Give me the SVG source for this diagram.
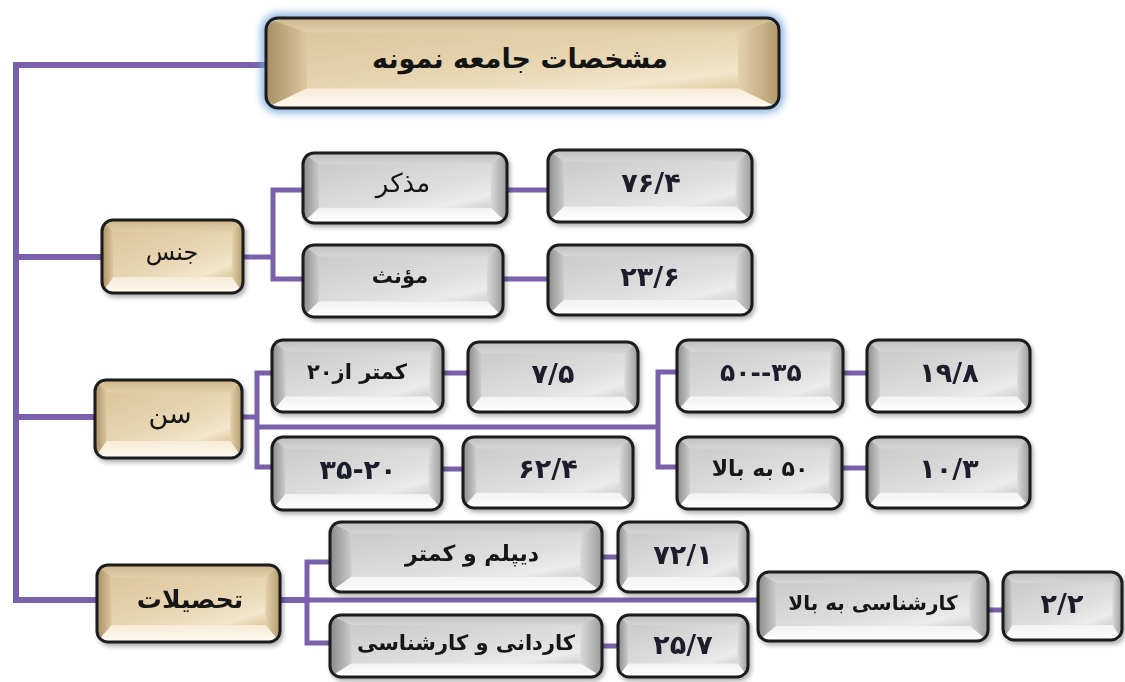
<svg xmlns="http://www.w3.org/2000/svg" xmlns:xlink="http://www.w3.org/1999/xlink" width="1125" height="682" viewBox="0 0 1125 682">
<style>
.ln{fill:none;stroke:#7b61ab;stroke-width:5}
.tr{stroke-width:6}
.bd{fill:none;stroke:#1b1b1b;stroke-width:3}
.t{font-family:"DejaVu Sans",sans-serif;font-size:21px;fill:#141414;text-anchor:middle;dominant-baseline:central}
.b{font-weight:bold}
.fa{direction:rtl}
.nm{direction:ltr;font-weight:bold;fill:#1d1d2b;font-size:27px}
</style>
<defs>
<filter id="sh" x="-10%" y="-10%" width="125%" height="135%"><feDropShadow dx="2" dy="3" stdDeviation="2" flood-color="#000" flood-opacity="0.3"/></filter>
<filter id="glow" x="-10%" y="-30%" width="120%" height="160%"><feGaussianBlur stdDeviation="4"/></filter>
<linearGradient id="gT" x1="0" y1="0" x2="0" y2="1"><stop offset="0" stop-color="#bdbdbd"/><stop offset="1" stop-color="#d6d6d6"/></linearGradient>
<linearGradient id="gL" x1="0" y1="0" x2="1" y2="0"><stop offset="0" stop-color="#8a8a8a"/><stop offset="1" stop-color="#cdcdcd"/></linearGradient>
<linearGradient id="gR" x1="0" y1="0" x2="1" y2="0"><stop offset="0" stop-color="#dadada"/><stop offset="1" stop-color="#9b9b9b"/></linearGradient>
<linearGradient id="gB" x1="0" y1="0" x2="0" y2="1"><stop offset="0" stop-color="#f2f2f2"/><stop offset="1" stop-color="#ffffff"/></linearGradient>
<linearGradient id="gC" x1="0" y1="0" x2="1" y2="1"><stop offset="0" stop-color="#cbcbcb"/><stop offset="0.6" stop-color="#dedede"/><stop offset="0.85" stop-color="#ebebeb"/><stop offset="1" stop-color="#d2d2d2"/></linearGradient>
<linearGradient id="bT" x1="0" y1="0" x2="0" y2="1"><stop offset="0" stop-color="#cdb68a"/><stop offset="1" stop-color="#e2cfa9"/></linearGradient>
<linearGradient id="bL" x1="0" y1="0" x2="1" y2="0"><stop offset="0" stop-color="#a88e62"/><stop offset="1" stop-color="#dcc79f"/></linearGradient>
<linearGradient id="bR" x1="0" y1="0" x2="1" y2="0"><stop offset="0" stop-color="#e4d2ad"/><stop offset="1" stop-color="#b39a6c"/></linearGradient>
<linearGradient id="bB" x1="0" y1="0" x2="0" y2="1"><stop offset="0" stop-color="#f6ecd6"/><stop offset="1" stop-color="#fffaf0"/></linearGradient>
<linearGradient id="bC" x1="0" y1="0" x2="1" y2="1"><stop offset="0" stop-color="#dcc59a"/><stop offset="0.6" stop-color="#e9d8b6"/><stop offset="0.85" stop-color="#f2e6cc"/><stop offset="1" stop-color="#dfca9f"/></linearGradient>
<clipPath id="rc"><rect width="100" height="100" rx="5" ry="14"/></clipPath>
<symbol id="gray" viewBox="0 0 100 100" preserveAspectRatio="none">
<g clip-path="url(#rc)">
<rect width="100" height="100" fill="#d9d9d9"/>
<polygon points="0,0 100,0 92,16 8,16" fill="url(#gT)"/>
<polygon points="0,0 8,16 8,78 0,100" fill="url(#gL)"/>
<polygon points="100,0 92,16 92,78 100,100" fill="url(#gR)"/>
<polygon points="0,100 8,78 92,78 100,100" fill="url(#gB)"/>
<rect x="8" y="16" width="84" height="62" fill="url(#gC)"/>
</g>
</symbol>
<symbol id="beige" viewBox="0 0 100 100" preserveAspectRatio="none">
<g clip-path="url(#rc)">
<rect width="100" height="100" fill="#e6d3ab"/>
<polygon points="0,0 100,0 92,16 8,16" fill="url(#bT)"/>
<polygon points="0,0 8,16 8,78 0,100" fill="url(#bL)"/>
<polygon points="100,0 92,16 92,78 100,100" fill="url(#bR)"/>
<polygon points="0,100 8,78 92,78 100,100" fill="url(#bB)"/>
<rect x="8" y="16" width="84" height="62" fill="url(#bC)"/>
</g>
</symbol>
</defs>
<rect width="1125" height="682" fill="#ffffff"/>

<g id="connectors">
<path class="ln tr" d="M266,65 H16 V600 H97"/>
<path class="ln tr" d="M16,257 H102"/>
<path class="ln tr" d="M16,417 H95"/>
<path class="ln" d="M243,257 H273"/>
<path class="ln" d="M303,190 H273 V279 H303"/>
<path class="ln" d="M507,190 H548"/>
<path class="ln" d="M503,279 H548"/>
<path class="ln" d="M242,417 H257"/>
<path class="ln" d="M272,373 H257 V467 H272"/>
<path class="ln" d="M257,427 H658"/>
<path class="ln" d="M677,372 H658 V467 H677"/>
<path class="ln" d="M443,373 H468"/>
<path class="ln" d="M442,469 H463"/>
<path class="ln" d="M843,373 H867"/>
<path class="ln" d="M842,468 H867"/>
<path class="ln tr" d="M280,600 H307"/>
<path class="ln" d="M330,562 H307 V643 H330"/>
<path class="ln" d="M307,600 H758"/>
<path class="ln" d="M602,557 H618"/>
<path class="ln" d="M602,646 H618"/>
<path class="ln" d="M988,610 H1003"/>
</g>

<g id="title">
<rect x="266" y="18" width="513" height="90" rx="12" fill="none" stroke="#6fa3dc" stroke-width="8" filter="url(#glow)"/>
<use href="#beige" x="266" y="18" width="513" height="90"/>
<rect class="bd" x="266" y="18" width="513" height="90" rx="12"/>
<text class="t b fa" x="520" y="58" style="font-size:27px">مشخصات جامعه نمونه</text>
</g>

<g id="jens" filter="url(#sh)">
<use href="#beige" x="102" y="220" width="141" height="73"/>
<rect class="bd" x="102" y="220" width="141" height="73" rx="11"/>
<text class="t fa" x="172" y="252" style="font-size:24px">جنس</text>
</g>
<g id="sen" filter="url(#sh)">
<use href="#beige" x="95" y="380" width="147" height="78"/>
<rect class="bd" x="95" y="380" width="147" height="78" rx="11"/>
<text class="t fa" x="170" y="413" style="font-size:27px">سن</text>
</g>
<g id="tahsilat" filter="url(#sh)">
<use href="#beige" x="97" y="565" width="183" height="77"/>
<rect class="bd" x="97" y="565" width="183" height="77" rx="11"/>
<text class="t b fa" x="190" y="599" style="font-size:25px">تحصیلات</text>
</g>

<g id="mozakar" filter="url(#sh)">
<use href="#gray" x="303" y="153" width="204" height="70"/>
<rect class="bd" x="303" y="153" width="204" height="70" rx="11"/>
<text class="t fa" x="403" y="183" style="font-size:26px">مذکر</text>
</g>
<g id="moannas" filter="url(#sh)">
<use href="#gray" x="303" y="245" width="200" height="72"/>
<rect class="bd" x="303" y="245" width="200" height="72" rx="11"/>
<text class="t b fa" x="400" y="276">مؤنث</text>
</g>
<g id="v764" filter="url(#sh)">
<use href="#gray" x="548" y="150" width="204" height="72"/>
<rect class="bd" x="548" y="150" width="204" height="72" rx="11"/>
<text class="t nm" x="651" y="182">۷۶/۴</text>
</g>
<g id="v236" filter="url(#sh)">
<use href="#gray" x="548" y="245" width="204" height="70"/>
<rect class="bd" x="548" y="245" width="204" height="70" rx="11"/>
<text class="t nm" x="650" y="276">۲۳/۶</text>
</g>

<g id="kamtar20" filter="url(#sh)">
<use href="#gray" x="272" y="340" width="171" height="72"/>
<rect class="bd" x="272" y="340" width="171" height="72" rx="11"/>
<text class="t b fa" x="357" y="372">کمتر از۲۰</text>
</g>
<g id="v75" filter="url(#sh)">
<use href="#gray" x="468" y="342" width="170" height="70"/>
<rect class="bd" x="468" y="342" width="170" height="70" rx="11"/>
<text class="t nm" x="553" y="373">۷/۵</text>
</g>
<g id="r2035" filter="url(#sh)">
<use href="#gray" x="272" y="437" width="170" height="73"/>
<rect class="bd" x="272" y="437" width="170" height="73" rx="11"/>
<text class="t nm" x="358" y="469">۳۵-۲۰</text>
</g>
<g id="v624" filter="url(#sh)">
<use href="#gray" x="463" y="437" width="170" height="71"/>
<rect class="bd" x="463" y="437" width="170" height="71" rx="11"/>
<text class="t nm" x="548" y="468">۶۲/۴</text>
</g>
<g id="r3550" filter="url(#sh)">
<use href="#gray" x="677" y="340" width="166" height="72"/>
<rect class="bd" x="677" y="340" width="166" height="72" rx="11"/>
<text class="t nm" x="761" y="372" style="font-size:25px">۵۰--۳۵</text>
</g>
<g id="v198" filter="url(#sh)">
<use href="#gray" x="867" y="340" width="163" height="72"/>
<rect class="bd" x="867" y="340" width="163" height="72" rx="11"/>
<text class="t nm" x="949" y="372">۱۹/۸</text>
</g>
<g id="r50up" filter="url(#sh)">
<use href="#gray" x="677" y="437" width="165" height="72"/>
<rect class="bd" x="677" y="437" width="165" height="72" rx="11"/>
<text class="t b fa" x="760" y="468" style="font-size:22px">۵۰ به بالا</text>
</g>
<g id="v103" filter="url(#sh)">
<use href="#gray" x="867" y="437" width="163" height="71"/>
<rect class="bd" x="867" y="437" width="163" height="71" rx="11"/>
<text class="t nm" x="949" y="468">۱۰/۳</text>
</g>

<g id="diplom" filter="url(#sh)">
<use href="#gray" x="330" y="522" width="272" height="70"/>
<rect class="bd" x="330" y="522" width="272" height="70" rx="11"/>
<text class="t b fa" x="472" y="553" style="font-size:22px">دیپلم و کمتر</text>
</g>
<g id="v721" filter="url(#sh)">
<use href="#gray" x="618" y="522" width="130" height="70"/>
<rect class="bd" x="618" y="522" width="130" height="70" rx="11"/>
<text class="t nm" x="683" y="554">۷۲/۱</text>
</g>
<g id="kardani" filter="url(#sh)">
<use href="#gray" x="330" y="615" width="272" height="62"/>
<rect class="bd" x="330" y="615" width="272" height="62" rx="11"/>
<text class="t b fa" x="466" y="643">کاردانی و کارشناسی</text>
</g>
<g id="v257" filter="url(#sh)">
<use href="#gray" x="618" y="615" width="130" height="62"/>
<rect class="bd" x="618" y="615" width="130" height="62" rx="11"/>
<text class="t nm" x="683" y="644">۲۵/۷</text>
</g>
<g id="karshenasi" filter="url(#sh)">
<use href="#gray" x="758" y="572" width="230" height="69"/>
<rect class="bd" x="758" y="572" width="230" height="69" rx="11"/>
<text class="t b fa" x="873" y="603" style="font-size:20px">کارشناسی  به بالا</text>
</g>
<g id="v22" filter="url(#sh)">
<use href="#gray" x="1003" y="572" width="119" height="68"/>
<rect class="bd" x="1003" y="572" width="119" height="68" rx="11"/>
<text class="t nm" x="1062" y="603">۲/۲</text>
</g>
</svg>
